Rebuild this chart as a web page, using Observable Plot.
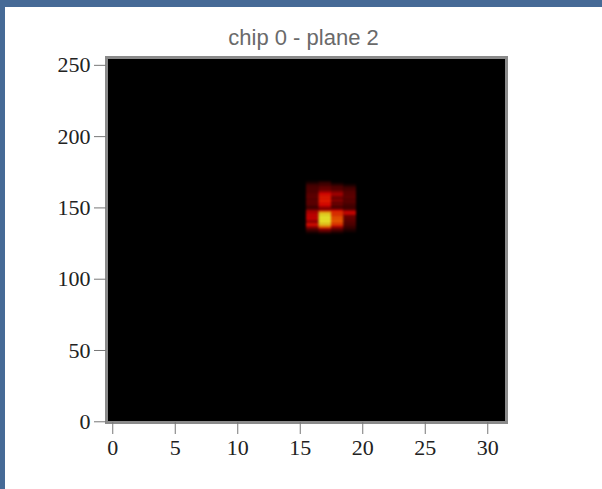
<!DOCTYPE html>
<html>
<head>
<meta charset="utf-8">
<script src="https://cdn.jsdelivr.net/npm/d3@7"></script>
<script src="https://cdn.jsdelivr.net/npm/@observablehq/plot@0.6"></script>
<style>
html,body{margin:0;padding:0;width:602px;height:489px;overflow:hidden;background:#466a96;}
#panel{position:absolute;left:5px;top:7px;width:597px;height:482px;background:#fff;}
#title{position:absolute;left:0;top:20px;width:597px;text-align:center;font-family:"Liberation Sans",Arial,sans-serif;font-size:22px;line-height:22px;color:#6a6a6a;}
#chart{position:absolute;left:0;top:0;}
#chart svg{background:transparent;}
#chart g[aria-label="rect"]{filter:blur(0.8px);}
</style>
</head>
<body>
<div id="panel">
  <div id="chart"></div>
  <div id="title">chip 0 - plane 2</div>
</div>
<script>
// Chip pixel columns (x) and rows (y) of the hit cluster
const colX = [16, 17, 18, 19];
const rowY = [168,167,166,165,164,163,162,161,160,159,158,157,156,155,154,153,152,151,150,
              149,148,147,146,145,144,143,142,141,140,139,138,137,136,135,134,133,132];
// Hit counts per row, one array per column (rows follow rowY)
const col16 = [5,8,15,20,18,22,20,18,25,20,28,22,25,20,26,22,25,20,15,20,32,42,40,45,48,42,50,38,32,42,55,48,32,25,18,10,5];
const col17 = [10,15,18,20,28,25,30,35,48,52,55,56,54,56,55,53,52,50,35,30,40,80,92,95,98,100,97,100,95,98,90,85,70,40,30,20,10];
const col18 = [0,5,10,18,22,20,25,30,38,40,35,30,25,35,28,25,30,22,20,25,45,60,62,58,65,68,66,70,68,65,62,55,35,28,20,12,5];
const col19 = [0,0,5,10,15,20,18,22,25,20,28,22,25,20,24,22,18,20,15,18,30,45,52,40,30,25,28,22,25,20,22,18,15,12,8,5,0];
const xTicks = [0, 5, 10, 15, 20, 25, 30];
const yTicks = [0, 50, 100, 150, 200, 250];
const xDomain = [-0.5, 31.5];
const yDomain = [-0.5, 255.5];

const columns = [col16, col17, col18, col19];
const cells = [];
columns.forEach((vals, ci) => {
  vals.forEach((v, ri) => {
    if (v > 0) cells.push({x: colX[ci], y: rowY[ri], v});
  });
});

const chart = Plot.plot({
  width: 597,
  height: 482,
  marginLeft: 101,
  marginRight: 96,
  marginTop: 50,
  marginBottom: 67,
  style: {fontFamily: "'Liberation Serif', 'Times New Roman', serif", fontSize: "22px", background: "transparent", color: "#222"},
  x: {domain: xDomain, axis: null},
  y: {domain: yDomain, axis: null},
  color: {type: "linear", domain: [0, 25, 50, 75, 100], range: ["#000000", "#6a0000", "#ee0000", "#ff7a00", "#ffff30"]},
  marks: [
    Plot.frame({fill: "black"}),
    Plot.rect(cells, {x1: d => d.x - 0.5, x2: d => d.x + 0.5, y1: d => d.y - 0.5, y2: d => d.y + 0.5, fill: "v"}),
    Plot.frame({stroke: "#8a8a8a", strokeWidth: 3}),
    Plot.axisX({ticks: xTicks, tickSize: 12, tickPadding: 5, stroke: "#777", fill: "#222", fontSize: 22, label: null}),
    Plot.axisY({ticks: yTicks, tickSize: 12, tickPadding: 4, stroke: "#777", fill: "#222", fontSize: 22, label: null})
  ]
});
document.getElementById("chart").appendChild(chart);
</script>
</body>
</html>
